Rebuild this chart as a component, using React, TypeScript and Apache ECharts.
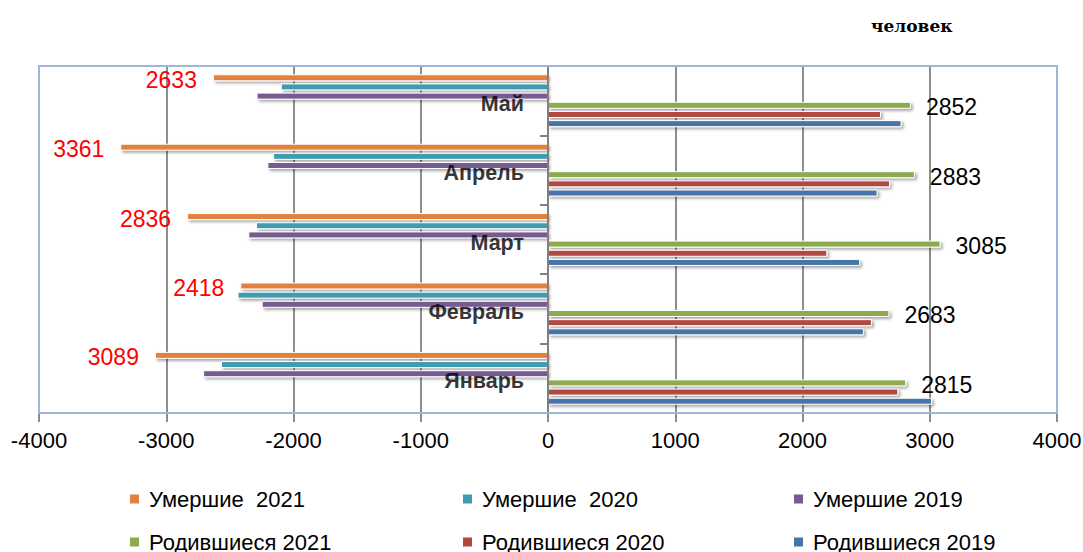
import React, { useEffect, useRef } from "react";
import * as echarts from "echarts";

const categories = ["Январь", "Февраль", "Март", "Апрель", "Май"];
const died2021 = [3089, 2418, 2836, 3361, 2633];
const died2020 = [2570, 2440, 2295, 2160, 2100];
const died2019 = [2710, 2250, 2355, 2205, 2290];
const born2021 = [2815, 2683, 3085, 2883, 2852];
const born2020 = [2753, 2545, 2195, 2688, 2617];
const born2019 = [3018, 2482, 2452, 2590, 2778];
const xTicks = { min: -4000, max: 4000, step: 1000 };

const names = {
  d21: "Умершие  2021",
  d20: "Умершие  2020",
  d19: "Умершие 2019",
  b21: "Родившиеся 2021",
  b20: "Родившиеся 2020",
  b19: "Родившиеся 2019",
};

const FONT = "'Liberation Sans', Arial, sans-serif";

export default function App() {
  const ref = useRef<HTMLDivElement>(null);
  useEffect(() => {
    if (!ref.current) return;
    const chart = echarts.init(ref.current, undefined, { renderer: "svg" });
    const barBase = {
      type: "bar" as const,
      barWidth: 7,
      barGap: "31%",
      itemStyle: {
        borderColor: "#ffffff",
        borderWidth: 1,
        shadowColor: "rgba(0,0,0,0.35)",
        shadowBlur: 3,
        shadowOffsetX: 2,
        shadowOffsetY: 2,
      },
    };
    const mk = (name: string, data: number[], color: string, label?: any) => ({
      ...barBase,
      name,
      data,
      itemStyle: { ...barBase.itemStyle, color },
      label: label || { show: false },
    });
    const lg = (name: string, left: number, top: number) => ({
      orient: "horizontal" as const,
      padding: 0,
      left,
      top,
      itemWidth: 11,
      itemHeight: 11,
      icon: "rect",
      textStyle: { fontSize: 22, lineHeight: 19, color: "#000", fontFamily: FONT, padding: [0, 0, 0, 4] },
      selectedMode: false,
      data: [name],
    });
    chart.setOption({
      animation: false,
      backgroundColor: "#ffffff",
      title: {
        text: "человек",
        left: 866,
        top: 12,
        textStyle: { fontFamily: "'DejaVu Serif', serif", fontWeight: "bold", fontSize: 17, color: "#000" },
      },
      grid: { left: 39, right: 26, top: 66, bottom: 139, containLabel: false, outerBoundsMode: "none" },
      legend: [
        lg(names.d21, 128, 488),
        lg(names.d20, 461, 488),
        lg(names.d19, 792, 488),
        lg(names.b21, 128, 531),
        lg(names.b20, 461, 531),
        lg(names.b19, 792, 531),
      ],
      xAxis: {
        type: "value",
        min: xTicks.min,
        max: xTicks.max,
        interval: xTicks.step,
        axisLine: { show: false, onZero: false },
        axisTick: { show: true, length: 9, lineStyle: { color: "#8a8a8a", width: 2 } },
        axisLabel: { fontSize: 22, color: "#000", fontFamily: FONT, margin: 16, formatter: (v: number) => String(v) },
        splitLine: { show: true, lineStyle: { color: "#8e8e8e", width: 2 } },
      },
      yAxis: {
        type: "category",
        data: categories,
        z: 10,
        axisLine: { show: true, onZero: true, lineStyle: { color: "#808080", width: 2 } },
        axisTick: { show: true, length: 8, lineStyle: { color: "#808080", width: 2 } },
        axisLabel: { show: false },
        splitLine: { show: false },
      },
      graphic: [
        {
          type: "rect",
          z: 100,
          shape: { x: 39, y: 66, width: 1018, height: 347 },
          style: { fill: "none", stroke: "#9db7da", lineWidth: 2 },
          silent: true,
        },
      ],
      series: [
        mk(names.d21, died2021.map((v) => -v), "#E0823D", {
          show: true,
          position: "left",
          distance: 16,
          color: "#FF0000",
          fontSize: 23,
          fontFamily: FONT,
          offset: [0, 2],
          formatter: (p: any) => String(Math.abs(p.value)),
        }),
        mk(names.d20, died2020.map((v) => -v), "#419AB0"),
        mk(names.d19, died2019.map((v) => -v), "#765A92"),
        mk(names.b21, born2021, "#8EAA4F", {
          show: true,
          position: "right",
          distance: 15,
          color: "#000",
          fontSize: 23,
          fontFamily: FONT,
          offset: [0, 2],
        }),
        mk(names.b20, born2020, "#B0483F"),
        mk(names.b19, born2019, "#4674AA"),
        {
          type: "scatter",
          name: "labels",
          symbolSize: 0,
          silent: true,
          z: 20,
          data: categories.map((c) => [0, c]),
          label: {
            show: true,
            position: "left",
            distance: 24,
            offset: [0, 3],
            formatter: (p: any) => p.data[1],
            fontSize: 21.5,
            fontWeight: "bold",
            color: "#000",
            fontFamily: FONT,
          },
        },
      ],
    });
    return () => chart.dispose();
  }, []);
  return (
    <div
      ref={ref}
      style={{ position: "fixed", left: 0, top: 0, width: 1083, height: 552, background: "#fff" }}
    />
  );
}
